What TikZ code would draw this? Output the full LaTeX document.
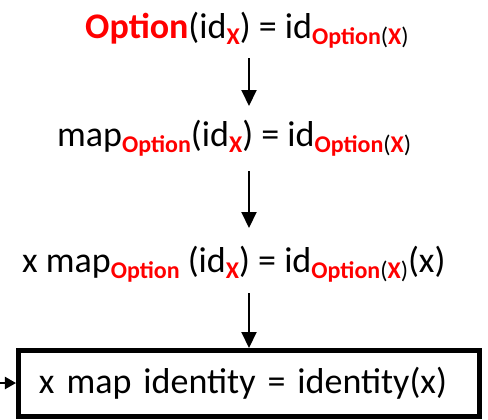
\documentclass[tikz,border=0pt]{standalone}
\usepackage{fontspec}
\setmainfont{Carlito}
\usetikzlibrary{arrows.meta}
\newcommand\mysub[1]{\raisebox{-6.5bp}{\fontsize{24bp}{24bp}\selectfont #1}}
\newcommand\Rd[1]{\textcolor{red}{\bfseries #1}}
\tikzset{
  eqtext/.style={inner sep=0pt, anchor=base west, font=\fontsize{36bp}{40bp}\selectfont},
  arr/.style={line width=2bp, -{Triangle[width=15bp,length=16bp]}},
  sidearr/.style={line width=2bp, -{Triangle[width=12bp,length=11bp]}},
  resbox/.style={draw, line width=5bp, minimum height=66bp, inner xsep=20.5bp, inner ysep=0pt,
    text width=420bp, align=left, text height=27bp, text depth=7bp,
    font=\fontsize{36bp}{40bp}\selectfont}
}
\begin{document}
\begin{tikzpicture}[x=1bp,y=-1bp]
\useasboundingbox (0,0) rectangle (488,419);
\node[eqtext] (l1) at (85,38) {\Rd{Option}(id\mysub{\Rd{X}}) = id\mysub{\Rd{Option}(\Rd{X})}};
\node[eqtext] (l2) at (57,146) {map\mysub{\Rd{Option}}(id\mysub{\Rd{X}}) = id\mysub{\Rd{Option}(\Rd{X})}};
\node[eqtext] (l3) at (22,272) {x map\mysub{\Rd{Option}} (id\mysub{\Rd{X}}) = id\mysub{\Rd{Option}(\Rd{X})}(x)};
\node[resbox] (box) at (249,383.5) {x map identity = identity(x)};
\coordinate (a1s) at (249,58);
\coordinate (a1e) at (249,106);
\coordinate (a2s) at (249,171);
\coordinate (a2e) at (249,228);
\coordinate (a3s) at (249,293);
\coordinate (side) at (0,383);
\draw[arr] (a1s) -- (a1e);
\draw[arr] (a2s) -- (a2e);
\draw[arr] (a3s) -- (box.north -| a3s);
\draw[sidearr] (side) -- (box.west |- side);
\end{tikzpicture}
\end{document}
